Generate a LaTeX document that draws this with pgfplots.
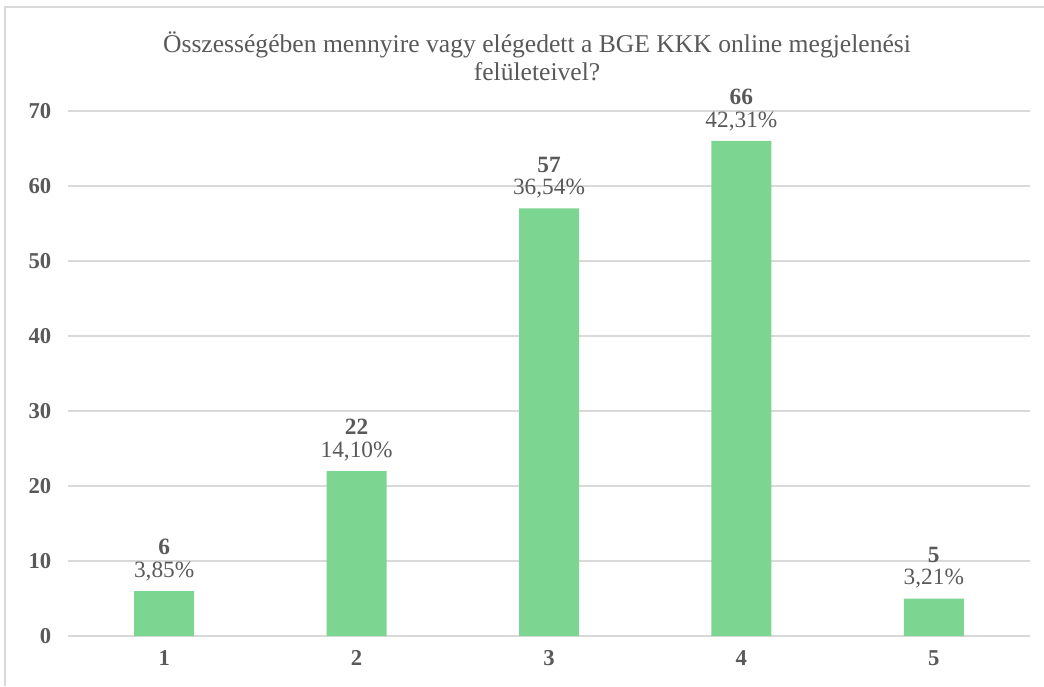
\documentclass[border=0pt]{standalone}
\usepackage{pgfplots}
\pgfplotsset{compat=1.18}
\usepackage{fontspec}
\setmainfont{Liberation Serif}
\definecolor{barc}{RGB}{125,213,146}
\definecolor{gridc}{RGB}{217,217,217}
\definecolor{txt}{RGB}{89,89,89}
\begin{document}
\begin{tikzpicture}
\useasboundingbox (-51pt,-37.5pt) rectangle (732pt,477pt);
\draw[gridc, line width=1.2pt] (-47.25pt,-37.5pt) -- (-47.25pt,471.75pt) -- (732pt,471.75pt);
\begin{axis}[
  at={(0,0)}, anchor=south west,
  scale only axis,
  width=721.5pt, height=393.75pt,
  xmin=0.5, xmax=5.5, ymin=0, ymax=70,
  ybar, bar width=45pt,
  axis x line*=bottom, axis y line*=left,
  x axis line style={gridc, line width=1.2pt},
  y axis line style={draw=none},
  xtick={1,2,3,4,5}, xtick style={draw=none},
  ytick={0,10,...,70}, ytick style={draw=none},
  ymajorgrids, grid style={gridc, line width=0.9pt},
  tick label style={font=\fontsize{17}{20}\selectfont\bfseries, text=txt},
  /pgf/number format/assume math mode=true,
  yticklabel style={xshift=-9pt},
  xticklabel style={yshift=-3pt},
  point meta=explicit,
  visualization depends on={value \thisrow{pct} \as \pctval},
  nodes near coords={\textbf{\pgfmathprintnumber{\pgfplotspointmeta}}\\[-3pt]\pctval},
  every node near coord/.append style={align=center, font=\fontsize{17.5}{20}\selectfont, text=txt, yshift=4pt},
  clip=false,
]
\addplot[fill=barc, draw=none] table[x=x, y=y, meta=y] {
x y pct
1 6 {3,85\%}
2 22 {14,10\%}
3 57 {36,54\%}
4 66 {42,31\%}
5 5 {3,21\%}
};
\end{axis}
\node[align=center, text=txt, font=\fontsize{19.2}{21}\selectfont] at (351.75pt,435pt) {Összességében mennyire vagy elégedett a BGE KKK online megjelenési\\felületeivel?};
\end{tikzpicture}
\end{document}
